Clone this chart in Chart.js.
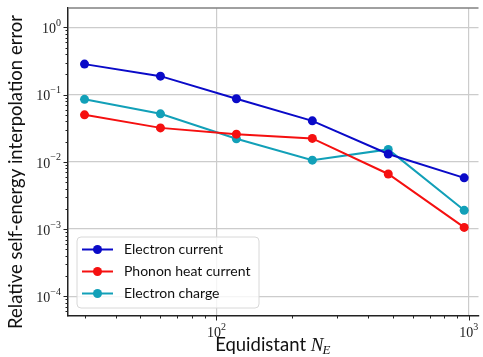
<!DOCTYPE html>
<html>
<head>
<meta charset="utf-8">
<script src="https://cdn.jsdelivr.net/npm/chart.js@4.4.1/dist/chart.umd.min.js"></script>
<style>
  html, body { margin: 0; padding: 0; background: #fff; }
  #wrap { width: 483px; height: 357px; position: relative; }
</style>
</head>
<body>
<div id="wrap"><canvas id="c"></canvas></div>
<script>
// ---- data ----
const xValues = [30, 60, 120, 240, 480, 960];
const electronCurrent = [0.284, 0.188, 0.0866, 0.0407, 0.0131, 0.00578];
const phononHeatCurrent = [0.050, 0.032, 0.0258, 0.0223, 0.0066, 0.00106];
const electronCharge = [0.085, 0.0518, 0.022, 0.0106, 0.0153, 0.0019];
const seriesLabels = ['Electron current', 'Phonon heat current', 'Electron charge'];
const xTickExponents = [2, 3];
const yTickExponents = [0, -1, -2, -3, -4];
const xTitle = 'Equidistant ';
const yTitle = 'Relative self-energy interpolation error';

const colors = ['#0a0ac8', '#f51010', '#12a0b8'];
const seriesValues = [electronCurrent, phononHeatCurrent, electronCharge];

const isPow10 = v => Math.abs(Math.log10(v) - Math.round(Math.log10(v))) < 1e-9;

const SANS = 'Lato, "Open Sans", sans-serif';
const SERIF = '"Liberation Serif", "DejaVu Serif", serif';

function drawPow(ctx, exp, x, y, align) {
  const base = '10';
  const sup = exp < 0 ? '\u2212' + Math.abs(exp) : String(exp);
  ctx.font = '14px ' + SERIF;
  const wb = ctx.measureText(base).width;
  ctx.font = '10px ' + SERIF;
  const ws = ctx.measureText(sup).width;
  const total = wb + ws;
  let x0 = align === 'right' ? x - total : x - total / 2;
  ctx.textBaseline = 'middle';
  ctx.textAlign = 'left';
  ctx.fillStyle = '#222';
  ctx.font = '14px ' + SERIF;
  ctx.fillText(base, x0, y);
  ctx.font = '10px ' + SERIF;
  ctx.fillText(sup, x0 + wb, y - 6);
}

const decor = {
  id: 'decor',
  afterDraw(chart) {
    const ctx = chart.ctx;
    const xs = chart.scales.x, ys = chart.scales.y;
    const a = chart.chartArea;
    ctx.save();
    // top spine
    ctx.strokeStyle = '#808080';
    ctx.lineWidth = 1.5;
    ctx.beginPath();
    ctx.moveTo(a.left, a.top);
    ctx.lineTo(a.right, a.top);
    ctx.stroke();

    // tick marks
    ctx.strokeStyle = '#222';
    ctx.lineWidth = 1;
    for (let e = 1; e <= 3; e++) {
      for (let k = 1; k <= 9; k++) {
        const v = k * Math.pow(10, e);
        if (v < xs.min || v > xs.max) continue;
        const px = Math.round(xs.getPixelForValue(v)) + 0.5;
        const len = k === 1 ? 4.5 : 2.5;
        ctx.beginPath();
        ctx.moveTo(px, a.bottom);
        ctx.lineTo(px, a.bottom + len);
        ctx.stroke();
      }
    }
    for (let e = -5; e <= 0; e++) {
      for (let k = 1; k <= 9; k++) {
        const v = k * Math.pow(10, e);
        if (v < ys.min || v > ys.max) continue;
        const py = Math.round(ys.getPixelForValue(v)) + 0.5;
        const len = k === 1 ? 4.5 : 2.5;
        ctx.beginPath();
        ctx.moveTo(a.left, py);
        ctx.lineTo(a.left - len, py);
        ctx.stroke();
      }
    }

    // tick labels
    xTickExponents.forEach(e => {
      const px = xs.getPixelForValue(Math.pow(10, e));
      drawPow(ctx, e, px, a.bottom + 17, 'center');
    });
    yTickExponents.forEach(e => {
      const py = ys.getPixelForValue(Math.pow(10, e));
      drawPow(ctx, e, a.left - 7, py + 2, 'right');
    });

    // axis titles
    ctx.fillStyle = '#111';
    ctx.textBaseline = 'alphabetic';
    ctx.font = '18.5px ' + SANS;
    const w1 = ctx.measureText(xTitle).width;
    ctx.font = 'italic 19px ' + SERIF;
    const w2 = ctx.measureText('N').width;
    ctx.font = 'italic 13px ' + SERIF;
    const w3 = ctx.measureText('E').width;
    const cx = (a.left + a.right) / 2;
    let x0 = cx - (w1 + w2 + w3) / 2;
    const by = 351;
    ctx.textAlign = 'left';
    ctx.font = '18.5px ' + SANS;
    ctx.fillText(xTitle, x0, by);
    ctx.font = 'italic 19px ' + SERIF;
    ctx.fillText('N', x0 + w1, by);
    ctx.font = 'italic 13px ' + SERIF;
    ctx.fillText('E', x0 + w1 + w2 - 1, by + 3);

    ctx.save();
    ctx.translate(16, (a.top + a.bottom) / 2 + 10);
    ctx.rotate(-Math.PI / 2);
    ctx.textAlign = 'center';
    ctx.textBaseline = 'middle';
    ctx.font = '18.5px ' + SANS;
    ctx.fillText(yTitle, 0, 0);
    ctx.restore();

    // legend
    const lx = 77, ly = 237, lw = 182, lh = 71, r = 4;
    ctx.beginPath();
    ctx.moveTo(lx + r, ly);
    ctx.arcTo(lx + lw, ly, lx + lw, ly + lh, r);
    ctx.arcTo(lx + lw, ly + lh, lx, ly + lh, r);
    ctx.arcTo(lx, ly + lh, lx, ly, r);
    ctx.arcTo(lx, ly, lx + lw, ly, r);
    ctx.closePath();
    ctx.fillStyle = 'rgba(255,255,255,0.8)';
    ctx.fill();
    ctx.strokeStyle = '#d8d8d8';
    ctx.lineWidth = 1;
    ctx.stroke();
    chart.data.datasets.forEach((ds, i) => {
      const yy = 249.5 + i * 22;
      ctx.strokeStyle = ds.borderColor;
      ctx.lineWidth = 2;
      ctx.beginPath();
      ctx.moveTo(82, yy);
      ctx.lineTo(113, yy);
      ctx.stroke();
      ctx.fillStyle = ds.backgroundColor;
      ctx.beginPath();
      ctx.arc(97.5, yy, 4.5, 0, Math.PI * 2);
      ctx.fill();
      ctx.fillStyle = '#111';
      ctx.font = '14px ' + SANS;
      ctx.textAlign = 'left';
      ctx.textBaseline = 'middle';
      ctx.fillText(ds.label, 124, yy);
    });
    ctx.restore();
  }
};

new Chart(document.getElementById('c'), {
  type: 'line',
  data: {
    datasets: seriesValues.map((vals, i) => ({
      label: seriesLabels[i],
      data: xValues.map((x, j) => ({ x: x, y: vals[j] })),
      borderColor: colors[i],
      backgroundColor: colors[i],
      borderWidth: 2,
      pointRadius: 4.5,
      pointHoverRadius: 4.5,
      pointBorderWidth: 0,
      tension: 0
    }))
  },
  options: {
    responsive: true,
    maintainAspectRatio: false,
    animation: false,
    events: [],
    layout: { padding: { top: 8, left: 0, right: 0, bottom: 0 } },
    plugins: { legend: { display: false }, tooltip: { enabled: false } },
    scales: {
      x: {
        type: 'logarithmic',
        min: 25.8,
        max: 1094,
        afterFit: s => { s.height = 41; },
        ticks: { display: false },
        grid: {
          drawTicks: false,
          color: c => (c.tick && isPow10(c.tick.value)) ? '#cccccc' : 'rgba(0,0,0,0)',
          lineWidth: 1.2
        },
        border: { display: true, color: '#222', width: 1.5 }
      },
      y: {
        type: 'logarithmic',
        min: 5.1e-5,
        max: 1.94,
        afterFit: s => { s.width = 68; },
        ticks: { display: false },
        grid: {
          drawTicks: false,
          color: c => (c.tick && isPow10(c.tick.value)) ? '#cccccc' : 'rgba(0,0,0,0)',
          lineWidth: 1.2
        },
        border: { display: true, color: '#222', width: 1.5 }
      }
    }
  },
  plugins: [decor]
});
</script>
</body>
</html>
